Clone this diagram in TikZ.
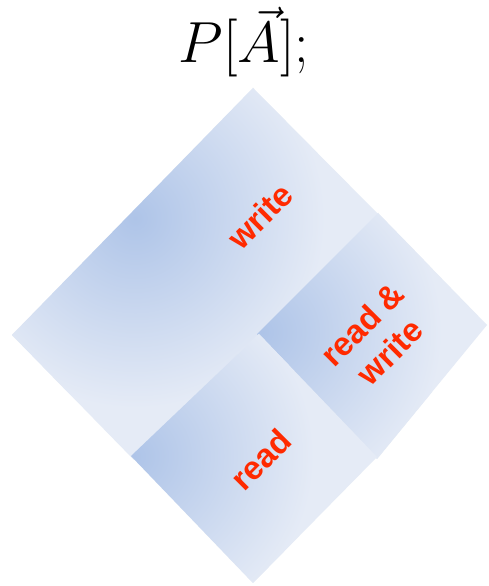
\documentclass[tikz,border=0pt]{standalone}
\usepackage{fontspec}
\newfontfamily\labelfont{Liberation Sans}
\definecolor{paper}{HTML}{FFFFFF}
\definecolor{tilelight}{HTML}{E5EBF6}
\definecolor{tiledark}{HTML}{AEC4E8}
\definecolor{access}{HTML}{FF2A00}

\begin{document}
\begin{tikzpicture}[
  x=1pt, y=1pt,
  tile/.style={fill=tilelight},
  glow/.style={inner color=tiledark, outer color=tilelight},
  mode/.style={text=access, font=\labelfont\bfseries\fontsize{33}{39}\selectfont, rotate=45, align=center, inner sep=0pt},
]
\useasboundingbox[fill=paper] (0,0) rectangle (488,586);

\node[font=\Huge, scale=2.33, anchor=base] (title) at (244,523) {$P[\vec{A}];$};

% write region (upper half of the diamond)
\fill[tile] (253,498) -- (380,370) -- (134,126) -- (12,251) -- cycle;
\begin{scope}
  \clip (253,498) -- (380,370) -- (134,126) -- (12,251) -- cycle;
  \shade[glow] (135,368) circle (190);
\end{scope}

% read & write region
\fill[tile] (378,373) -- (487,261) -- (377,127) -- (257,252) -- cycle;
\begin{scope}
  \clip (378,373) -- (487,261) -- (377,127) -- (257,252) -- cycle;
  \shade[glow] (262,254) circle (180);
\end{scope}

% read region
\fill[tile] (259,252) -- (377,129) -- (253,3) -- (131,130) -- cycle;
\begin{scope}
  \clip (259,252) -- (377,129) -- (253,3) -- (131,130) -- cycle;
  \shade[glow] (134,130) circle (180);
\end{scope}

\node[mode] (wr) at (260,370) {write};
\node[mode] (rw) at (376,248) {read \&\\write};
\node[mode] (rd) at (261,126) {read};

\end{tikzpicture}
\end{document}
